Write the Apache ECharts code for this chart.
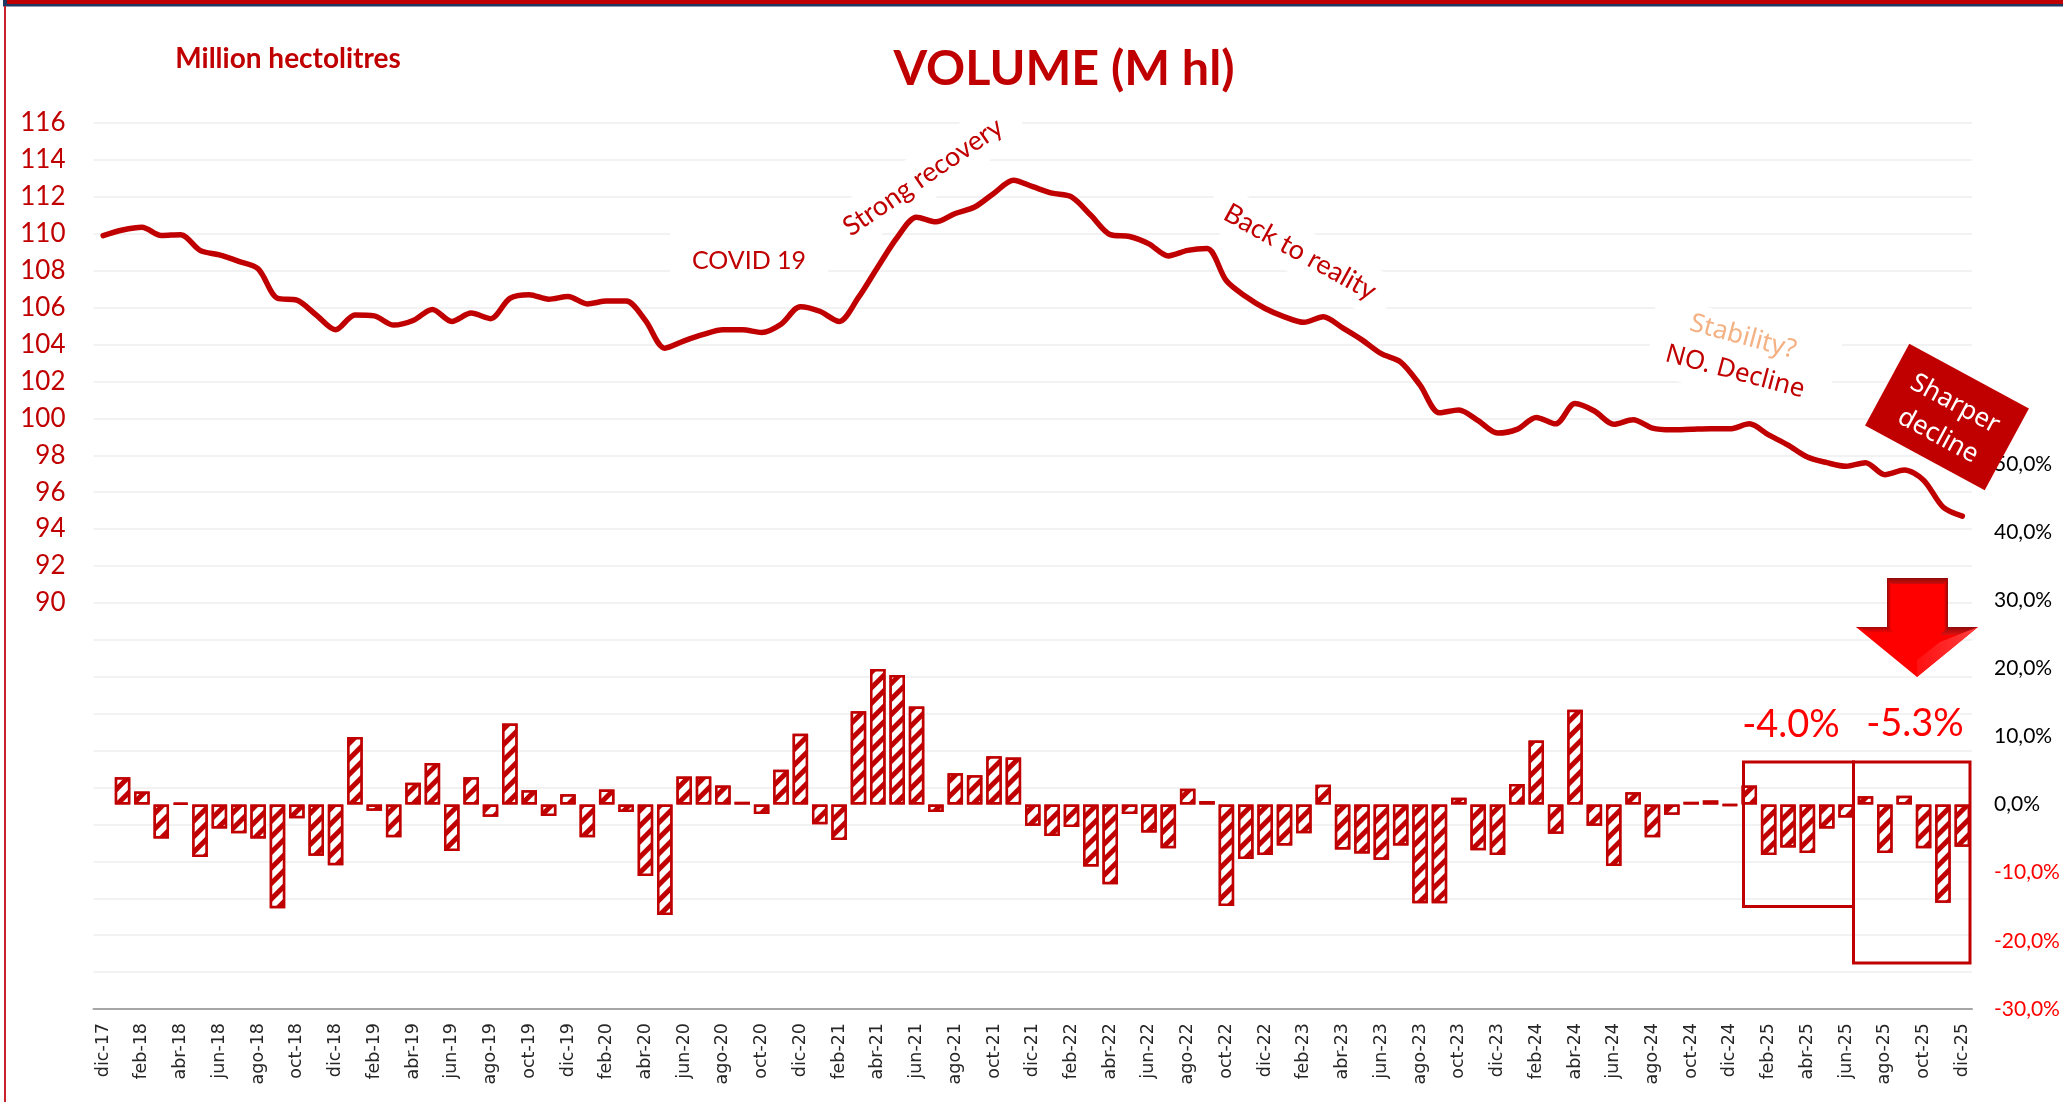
<!DOCTYPE html>
<html>
<head>
<meta charset="utf-8">
<title>Volume</title>
<script src="https://cdn.jsdelivr.net/npm/echarts@6/dist/echarts.min.js"></script>
<style>
html, body { margin: 0; padding: 0; background: #fff; }
#chart { width: 2063px; height: 1102px; }
</style>
</head>
<body>
<div id="chart"></div>
<script>
var months = [
    'dic-17',
    'ene-18', 'feb-18', 'mar-18', 'abr-18', 'may-18', 'jun-18', 'jul-18', 'ago-18', 'sep-18', 'oct-18', 'nov-18', 'dic-18',
    'ene-19', 'feb-19', 'mar-19', 'abr-19', 'may-19', 'jun-19', 'jul-19', 'ago-19', 'sep-19', 'oct-19', 'nov-19', 'dic-19',
    'ene-20', 'feb-20', 'mar-20', 'abr-20', 'may-20', 'jun-20', 'jul-20', 'ago-20', 'sep-20', 'oct-20', 'nov-20', 'dic-20',
    'ene-21', 'feb-21', 'mar-21', 'abr-21', 'may-21', 'jun-21', 'jul-21', 'ago-21', 'sep-21', 'oct-21', 'nov-21', 'dic-21',
    'ene-22', 'feb-22', 'mar-22', 'abr-22', 'may-22', 'jun-22', 'jul-22', 'ago-22', 'sep-22', 'oct-22', 'nov-22', 'dic-22',
    'ene-23', 'feb-23', 'mar-23', 'abr-23', 'may-23', 'jun-23', 'jul-23', 'ago-23', 'sep-23', 'oct-23', 'nov-23', 'dic-23',
    'ene-24', 'feb-24', 'mar-24', 'abr-24', 'may-24', 'jun-24', 'jul-24', 'ago-24', 'sep-24', 'oct-24', 'nov-24', 'dic-24',
    'ene-25', 'feb-25', 'mar-25', 'abr-25', 'may-25', 'jun-25', 'jul-25', 'ago-25', 'sep-25', 'oct-25', 'nov-25', 'dic-25'
];

// million hectolitres, rolling
var volume = [
    109.9,
    110.2, 110.35, 109.9, 109.95, 109.1, 108.85, 108.5, 108.1, 106.5, 106.4, 105.6, 104.8,
    105.6, 105.55, 105.05, 105.3, 105.9, 105.25, 105.7, 105.4, 106.5, 106.7, 106.45, 106.6,
    106.2, 106.35, 106.35, 105.3, 103.8, 104.2, 104.55, 104.8, 104.8, 104.65, 105.1, 106.05,
    105.8, 105.25, 106.55, 108.2, 109.8, 110.9, 110.65, 111.1, 111.45, 112.2, 112.9, 112.55,
    112.2, 112.0, 111.0, 109.95, 109.85, 109.45, 108.8, 109.1, 109.2, 107.45, 106.6, 105.95,
    105.5, 105.2, 105.5, 104.9, 104.25, 103.5, 103.05, 101.8, 100.3, 100.45, 99.87, 99.2,
    99.4, 100.05, 99.7, 100.8, 100.4, 99.68, 99.92, 99.47, 99.38, 99.41, 99.44, 99.43,
    99.7, 99.1, 98.55, 97.9, 97.6, 97.4, 97.6, 96.95, 97.2, 96.65, 95.2, 94.7
];

// year on year change, percent
var change = [
    null,
    4.0, 1.9, -5.0, 0.2, -7.7, -3.5, -4.2, -5.0, -15.2, -2.0, -7.5, -8.9,
    9.9, -0.9, -4.8, 3.2, 6.1, -6.8, 4.0, -1.8, 11.9, 2.1, -1.7, 1.5,
    -4.8, 2.2, -1.1, -10.5, -16.2, 4.1, 4.1, 2.8, 0.4, -1.4, 5.1, 10.4,
    -2.9, -5.2, 13.7, 19.9, 19.0, 14.4, -1.1, 4.6, 4.3, 7.1, 6.9, -3.1,
    -4.6, -3.3, -9.1, -11.7, -1.4, -4.1, -6.4, 2.3, 0.5, -14.9, -8.0, -7.4,
    -6.0, -4.2, 2.9, -6.6, -7.2, -8.1, -6.0, -14.5, -14.5, 1.0, -6.7, -7.4,
    3.0, 9.4, -4.3, 13.9, -3.1, -9.0, 1.8, -4.8, -1.5, 0.4, 0.6, -0.1,
    2.8, -7.4, -6.3, -7.1, -3.5, -1.9, 1.2, -7.1, 1.3, -6.4, -14.4, -6.2
];

var dark_red = '#C00000';
var bright_red = '#FF0000';
var calibri = 'Lato, "Open Sans", sans-serif';
var segoe = '"Noto Sans", "Open Sans", sans-serif';

/* white patch that cuts the gridlines behind a note */
function mask(cx, cy, w, h, deg)
{
    return {
	type: 'rect', x: cx, y: cy, rotation: deg*Math.PI/180, z: 1, silent: true,
	shape: {x: -w/2, y: -h/2, width: w, height: h},
	style: {fill: '#fff'}
    };
}

function note(txt, cx, cy, deg, size, color, family, weight)
{
    return {
	type: 'text', x: cx, y: cy, rotation: deg*Math.PI/180, z: 20, silent: true,
	style: {
	    text: txt, fill: color, align: 'center', verticalAlign: 'middle',
	    font: (weight || 'normal') + ' ' + size + 'px ' + family
	}
    };
}

function box(x, y, w, h)
{
    return {
	type: 'rect', z: 15, silent: true,
	shape: {x: x, y: y, width: w, height: h},
	style: {fill: 'none', stroke: dark_red, lineWidth: 3}
    };
}

function facet(points, fill)
{
    return {
	type: 'polygon', z: 12, silent: true,
	shape: {points: points},
	style: {fill: fill}
    };
}

function grad(x2, y2, from, to)
{
    return {type: 'linear', x: 0, y: 0, x2: x2, y2: y2,
	colorStops: [{offset: 0, color: from}, {offset: 1, color: to}]};
}

var frame = [
    {type: 'rect', z: 30, silent: true, shape: {x: 3, y: 0, width: 2060, height: 6.5}, style: {fill: '#1F3864'}},
    {type: 'rect', z: 31, silent: true, shape: {x: 7, y: 0, width: 2056, height: 4}, style: {fill: dark_red}},
    {type: 'rect', z: 30, silent: true, shape: {x: 4, y: 6, width: 2, height: 1096}, style: {fill: '#C8232C'}}
];

var masks = [
    mask(749, 252, 158, 56, 0),
    mask(923, 177, 225, 48, 34.4),
    mask(1300, 252, 205, 46, -29),
    mask(1745, 340, 190, 44, -15),
    mask(1735, 374, 180, 44, -15)
];

var notes = [
    note('Million hectolitres', 288, 59, 0, 28, dark_red, calibri, 'bold'),
    note('VOLUME (M hl)', 1064, 69, 0, 48.5, dark_red, calibri, 'bold'),
    note('COVID 19', 749, 261, 0, 25, dark_red, calibri),
    note('Strong recovery', 923, 177, 34.4, 27, dark_red, calibri),
    note('Back to reality', 1300, 252, -29, 27, dark_red, calibri),
    note('Stability?', 1743, 337, -15, 26, '#F4B183', segoe),
    note('NO. Decline', 1735, 372, -15, 26, dark_red, segoe),
    note('-4.0%', 1791, 725, 0, 38, bright_red, calibri),
    note('-5.3%', 1915, 724, 0, 38, bright_red, calibri)
];

var sharper = [
    {
	type: 'rect', x: 1947, y: 417, rotation: -28.4*Math.PI/180, z: 18, silent: true,
	shape: {x: -68, y: -46.5, width: 136, height: 93},
	style: {fill: dark_red}
    },
    note('Sharper', 1955, 404, -28.4, 26, '#fff', segoe),
    note('decline', 1938, 436, -28.4, 26, '#fff', segoe)
];

var boxes = [
    box(1743.5, 762, 110, 144.5),
    box(1853.5, 762, 116.5, 201)
];

var arrow = [
    facet([[1887, 578], [1948, 578], [1948, 627], [1978, 627], [1917, 677], [1856, 627], [1887, 627]], bright_red),
    facet([[1887, 578], [1948, 578], [1944, 584], [1891, 584]], grad(0, 1, '#8E0B0B', '#D00A0A')),
    facet([[1887, 578], [1891, 584], [1891, 630], [1887, 627]], grad(1, 0, '#8E0B0B', bright_red)),
    facet([[1948, 578], [1944, 584], [1944, 630], [1948, 627]], grad(1, 0, bright_red, '#8E0B0B')),
    facet([[1856, 627], [1887, 627], [1895, 633], [1872, 633]], grad(0, 1, '#A00A0A', bright_red)),
    facet([[1948, 627], [1978, 627], [1960, 635], [1940, 635]], grad(0, 1, '#8E0B0B', '#E01010')),
    facet([[1917, 677], [1978, 627], [1940, 642], [1917, 660]], grad(1, 0, '#FF1010', '#FF4040'))
];

var chart = echarts.init(document.getElementById('chart'), null, {renderer: 'canvas'});

chart.setOption({
    animation: false,
    backgroundColor: '#fff',
    grid: {left: 93.5, right: 91, top: 123, bottom: 93, containLabel: false},
    xAxis: {
	type: 'category',
	data: months,
	position: 'bottom',
	axisLine: {onZero: false, lineStyle: {color: '#A6A6A6', width: 2}},
	axisTick: {interval: 1, length: 6, lineStyle: {color: '#A6A6A6', width: 1.5}},
	axisLabel: {interval: 1, rotate: 90, margin: 14, fontSize: 17.5, color: '#262626', fontFamily: 'DejaVu Sans'},
	splitLine: {show: false}
    },
    yAxis: [
	{
	    type: 'value', min: 68, max: 116, interval: 2, position: 'left',
	    axisLine: {show: false}, axisTick: {show: false},
	    axisLabel: {
		margin: 28, fontSize: 26, color: dark_red, fontFamily: calibri,
		formatter: function (v) { return v >= 90 ? String(v) : ''; }
	    },
	    splitLine: {lineStyle: {color: '#F2F2F2', width: 2}}
	},
	{
	    type: 'value', min: -30, max: 100, interval: 10, position: 'right',
	    axisLine: {show: false}, axisTick: {show: false},
	    splitLine: {show: false},
	    axisLabel: {
		margin: 22, align: 'left', fontSize: 21, fontFamily: calibri,
		color: function (v) { return v < 0 ? bright_red : '#000'; },
		formatter: function (v) { return v > 50 ? '' : v.toFixed(1).replace('.', ',') + '%'; }
	    }
	}
    ],
    series: [
	{
	    name: 'change', type: 'bar', yAxisIndex: 1, data: change, barWidth: 15.5, z: 2,
	    itemStyle: {
		color: '#fff', borderColor: dark_red, borderWidth: 2.5,
		decal: {
		    symbol: 'rect', symbolSize: 1, color: dark_red, backgroundColor: '#fff',
		    dashArrayX: [1, 0], dashArrayY: [5, 6], rotation: -Math.PI/4
		}
	    }
	},
	{
	    name: 'volume', type: 'line', yAxisIndex: 0, data: volume, z: 5,
	    smooth: 0.3, symbol: 'none',
	    lineStyle: {color: dark_red, width: 5.5, cap: 'round', join: 'round'}
	}
    ],
    graphic: {elements: frame.concat(masks, boxes, arrow, sharper, notes)}
});
</script>
</body>
</html>
